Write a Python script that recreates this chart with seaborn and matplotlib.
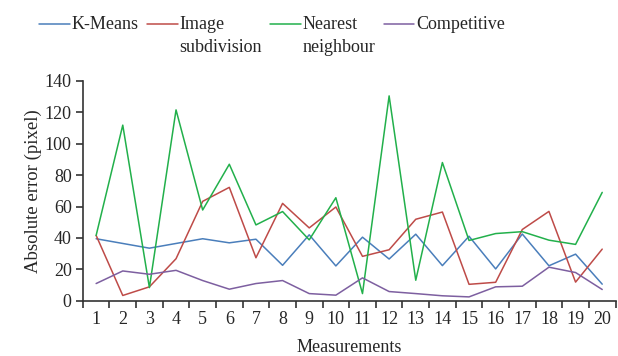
import numpy as np
import pandas as pd
import matplotlib
matplotlib.use("Agg")
import matplotlib.pyplot as plt
import seaborn as sns

# Values
measurements = list(range(1, 21))
kmeans = [39.5, 36.5, 33.5, 36.5, 39.5, 36.9, 39.2, 22.6, 42.0, 22.2,
          40.5, 26.6, 42.4, 22.4, 41.1, 20.3, 42.5, 22.3, 29.7, 10.6]
image_subdivision = [41.6, 3.4, 8.9, 26.8, 63.3, 72.2, 27.4, 62.0, 46.4, 59.7,
                     28.3, 32.5, 51.9, 56.5, 10.5, 11.8, 45.4, 56.9, 11.9, 32.9]
nearest_neighbour = [41.6, 111.8, 8.4, 121.5, 57.8, 86.9, 48.3, 56.8, 38.8, 65.6,
                     4.6, 130.4, 13.1, 88.0, 38.4, 42.8, 44.0, 38.6, 35.9, 69.0]
competitive = [11.0, 19.0, 16.9, 19.4, 12.9, 7.4, 11.0, 12.9, 4.6, 3.6,
               14.6, 5.9, 4.6, 3.2, 2.5, 8.9, 9.3, 21.4, 18.0, 7.2]

series_names = ["K-Means", "Image\nsubdivision", "Nearest\nneighbour", "Competitive"]
colors = ["#4a7ebb", "#be4b48", "#22b04b", "#7d5fa0"]
y_ticks = [0, 20, 40, 60, 80, 100, 120, 140]

df = pd.DataFrame({
    "measurement": measurements * 4,
    "error": kmeans + image_subdivision + nearest_neighbour + competitive,
    "method": np.repeat(series_names, len(measurements)),
})

sns.set_theme(style="ticks")
plt.rcParams['font.family'] = ['Liberation Serif', 'DejaVu Serif']
plt.rcParams['font.size'] = 13

fig = plt.figure(figsize=(6.18, 3.56), dpi=100)
ax = fig.add_axes([0.134, 0.155, 0.862, 0.618])

sns.lineplot(data=df, x="measurement", y="error", hue="method",
             hue_order=series_names, palette=colors, linewidth=1.1, ax=ax)

ax.set_xlim(0.5, 20.5)
ax.set_ylim(0, 140)
ax.set_yticks(y_ticks)
ax.set_yticklabels([str(v) for v in y_ticks], fontsize=13)

# tick marks sit between the categories, labels on the categories
ax.set_xticks(np.arange(0.5, 21, 1.0))
ax.set_xticklabels([])
ax.set_xticks(measurements, minor=True)
ax.set_xticklabels([str(m) for m in measurements], minor=True, fontsize=13)
ax.tick_params(axis="x", which="major", length=5, width=1.2, color="#333333")
ax.tick_params(axis="x", which="minor", length=0, pad=7)
ax.tick_params(axis="y", length=5, width=1.2, color="#333333", pad=3)

for side in ["top", "right"]:
    ax.spines[side].set_visible(False)
for side in ["left", "bottom"]:
    ax.spines[side].set_color("#333333")
    ax.spines[side].set_linewidth(1.2)

ax.set_xlabel("Measurements", fontsize=13, labelpad=8)
ax.set_ylabel("Absolute error (pixel)", fontsize=13.5, labelpad=2)

# legend: every label gets two lines so the handles line up with the first one
handles, labels = ax.get_legend_handles_labels()
ax.legend_.remove()
labels = [lab if "\n" in lab else lab + "\n" for lab in labels]
leg = fig.legend(handles, labels, loc="upper left", bbox_to_anchor=(0.058, 0.964),
                 ncol=4, frameon=False, fontsize=13, handlelength=1.7,
                 handletextpad=0.1, columnspacing=0.45, borderpad=0.2,
                 borderaxespad=0.0)
for t in leg.get_texts():
    t.set_linespacing(1.4)
for h in leg.legend_handles:
    h.set_ydata(np.asarray(h.get_ydata()) + 9)

fig.savefig("out.png", dpi=100)
